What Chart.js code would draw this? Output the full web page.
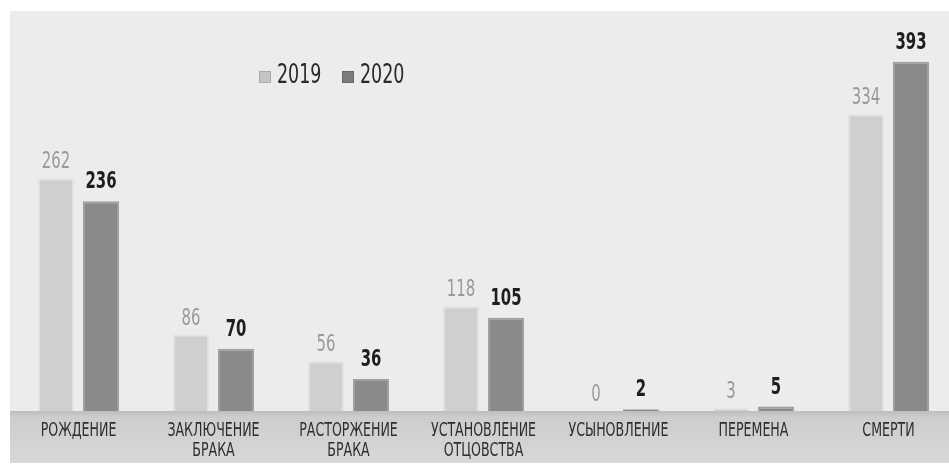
<!DOCTYPE html>
<html>
<head>
<meta charset="utf-8">
<script src="https://cdn.jsdelivr.net/npm/chart.js@4/dist/chart.umd.min.js"></script>
<style>
  html, body { margin: 0; padding: 0; background: #ffffff; overflow: hidden; }
  #wrap { position: absolute; left: 0; top: 0; width: 960px; height: 465px; }
</style>
</head>
<body>
<div id="wrap"><canvas id="chart" width="960" height="465"></canvas></div>
<script>
// data
const categories = [
    "РОЖДЕНИЕ",
    ["ЗАКЛЮЧЕНИЕ", "БРАКА"],
    ["РАСТОРЖЕНИЕ", "БРАКА"],
    ["УСТАНОВЛЕНИЕ", "ОТЦОВСТВА"],
    "УСЫНОВЛЕНИЕ",
    "ПЕРЕМЕНА",
    "СМЕРТИ",
];
const values2019 = [262, 86, 56, 118, 0, 3, 334];
const values2020 = [236, 70, 36, 105, 2, 5, 393];
const seriesNames = ["2019", "2020"];

const FONT = '"DejaVu Sans Condensed", "DejaVu Sans", sans-serif';

// narrow text helper (the original uses a condensed face)
function narrowText(ctx, text, x, y, sx) {
    ctx.save();
    ctx.translate(x, y);
    ctx.scale(sx, 1);
    ctx.fillText(text, 0, 0);
    ctx.restore();
}

// panel + ground band behind the plot
const backdrop = {
    id: "backdrop",
    beforeDraw(chart) {
        const { ctx, chartArea } = chart;
        ctx.save();
        ctx.fillStyle = "#ececec";
        ctx.fillRect(10, 11, chart.width - 10, chartArea.bottom - 11);
        const g = ctx.createLinearGradient(0, chartArea.bottom, 0, 463);
        g.addColorStop(0, "#bdbdbd");
        g.addColorStop(0.12, "#cdcdcd");
        g.addColorStop(1, "#d8d8d8");
        ctx.fillStyle = g;
        ctx.fillRect(10, chartArea.bottom, chart.width - 10, 463 - chartArea.bottom);
        ctx.restore();
    },
};

// value labels above bars
const valueLabels = {
    id: "valueLabels",
    afterDatasetsDraw(chart) {
        const { ctx } = chart;
        ctx.save();
        ctx.textAlign = "center";
        ctx.textBaseline = "alphabetic";
        chart.data.datasets.forEach((ds, i) => {
            const meta = chart.getDatasetMeta(i);
            ctx.font = (i === 1 ? "bold " : "") + "23px " + FONT;
            ctx.fillStyle = i === 1 ? "#1e1e1e" : "#9a9a9a";
            meta.data.forEach((bar, j) => {
                narrowText(ctx, String(ds.data[j]), bar.x, bar.y - (i === 1 ? 13 : 10), 0.72);
            });
        });
        ctx.restore();
    },
};

// category labels under the axis, from the x scale positions
const categoryLabels = {
    id: "categoryLabels",
    afterDraw(chart) {
        const { ctx } = chart;
        const xs = chart.scales.x;
        ctx.save();
        ctx.font = "20px " + FONT;
        ctx.fillStyle = "#2e2e2e";
        ctx.textAlign = "center";
        ctx.textBaseline = "middle";
        categories.forEach((c, i) => {
            const lines = Array.isArray(c) ? c : [c];
            const x = xs.getPixelForTick(i);
            lines.forEach((ln, k) => {
                narrowText(ctx, ln, x, 431 + k * 20, 0.7);
            });
        });
        ctx.restore();
    },
};

// legend placed like the original
const legendBox = {
    id: "legendBox",
    afterDraw(chart) {
        const { ctx } = chart;
        const items = [
            { x: 259, color: "#c4c4c4", edge: "#aaaaaa" },
            { x: 342, color: "#7c7c7c", edge: "#666666" },
        ];
        ctx.save();
        ctx.font = "27px " + FONT;
        ctx.textBaseline = "alphabetic";
        ctx.textAlign = "left";
        items.forEach((it, i) => {
            ctx.fillStyle = it.color;
            ctx.fillRect(it.x, 71, 12, 12);
            ctx.strokeStyle = it.edge;
            ctx.lineWidth = 1;
            ctx.strokeRect(it.x + 0.5, 71.5, 11, 11);
            ctx.fillStyle = "#2a2a2a";
            narrowText(ctx, seriesNames[i], it.x + 18, 83, 0.72);
        });
        ctx.restore();
    },
};

new Chart(document.getElementById("chart").getContext("2d"), {
    type: "bar",
    data: {
        labels: categories,
        datasets: [
            {
                label: seriesNames[0],
                data: values2019,
                backgroundColor: "#cfcfcf",
                borderColor: "#e2e2e2",
                borderWidth: 2,
                categoryPercentage: 0.667,
                barPercentage: 0.8,
            },
            {
                label: seriesNames[1],
                data: values2020,
                backgroundColor: "#8a8a8a",
                borderColor: "#a0a0a0",
                borderWidth: 2,
                categoryPercentage: 0.667,
                barPercentage: 0.8,
            },
        ],
    },
    options: {
        responsive: false,
        animation: false,
        devicePixelRatio: 1,
        layout: { padding: { left: 11, right: 4, top: 20, bottom: 0 } },
        plugins: {
            legend: { display: false },
            tooltip: { enabled: false },
        },
        scales: {
            x: {
                grid: { display: false },
                border: { display: false },
                ticks: { display: false },
                afterFit: (s) => { s.height = 54; },
            },
            y: {
                display: false,
                min: 0,
                max: 440,
            },
        },
    },
    plugins: [backdrop, valueLabels, categoryLabels, legendBox],
});
</script>
</body>
</html>
